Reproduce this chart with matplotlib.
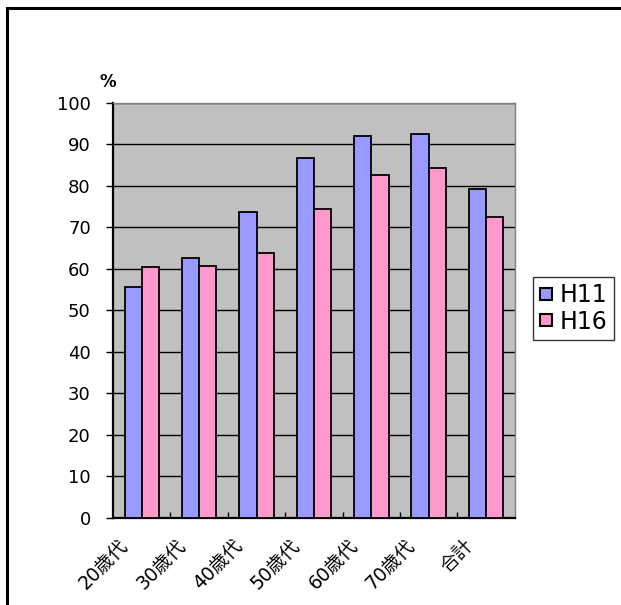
import matplotlib
matplotlib.use("Agg")
import matplotlib.pyplot as plt
import matplotlib.transforms as mtransforms
from matplotlib.lines import Line2D
from matplotlib.ticker import FixedLocator
import numpy as np

plt.rcParams["font.family"] = ["DejaVu Sans", "Noto Sans CJK JP"]

categories = ["20歳代", "30歳代", "40歳代", "50歳代", "60歳代", "70歳代", "合計"]
h11 = [55.7, 62.7, 73.7, 86.7, 92.1, 92.6, 79.3]
h16 = [60.4, 60.8, 63.9, 74.5, 82.7, 84.3, 72.6]
series_names = ["H11", "H16"]
yticks = list(range(0, 101, 10))

fig = plt.figure(figsize=(6.21, 6.05), dpi=100)
ax = fig.add_axes([0.182, 0.1438, 0.647, 0.686])
ax.set_facecolor("#c0c0c0")

x = np.arange(len(categories))
w = 0.3
ax.bar(x - w / 2, h11, w, color="#9999ff", edgecolor="black", linewidth=1.3,
       label=series_names[0], zorder=3)
ax.bar(x + w / 2, h16, w, color="#ff99cc", edgecolor="black", linewidth=1.3,
       label=series_names[1], zorder=3)

ax.set_xlim(-0.5, len(categories) - 0.5)
ax.set_ylim(0, 100)
ax.set_yticks(yticks)
ax.yaxis.grid(True, color="black", linewidth=1.0, zorder=1)
ax.set_axisbelow(True)
ax.tick_params(axis="y", direction="out", length=5, width=1, labelsize=13, pad=11)

ax.set_xticks(x)
ax.set_xticklabels(categories, rotation=45, ha="right", rotation_mode="anchor",
                   fontsize=13.5)
ax.tick_params(axis="x", which="major", length=0, pad=13)
# nudge the slanted labels left so they sit under the bars
shift = mtransforms.ScaledTranslation(-23 / 100, 0, fig.dpi_scale_trans)
for lbl in ax.get_xticklabels():
    lbl.set_transform(lbl.get_transform() + shift)
ax.xaxis.set_minor_locator(FixedLocator(np.arange(0.5, len(categories) - 0.5, 1)))
ax.tick_params(axis="x", which="minor", direction="in", length=4, width=1)

for side in ["left", "bottom"]:
    ax.spines[side].set_color("black")
    ax.spines[side].set_linewidth(1.6)
for side in ["top", "right"]:
    ax.spines[side].set_color("#808080")
    ax.spines[side].set_linewidth(1.0)

fig.text(0.161, 0.864, "%", fontsize=12, fontweight="bold", ha="left", va="center")

handles = [
    Line2D([], [], marker="s", linestyle="none", markersize=9,
           markerfacecolor="#9999ff", markeredgecolor="black", markeredgewidth=1.5),
    Line2D([], [], marker="s", linestyle="none", markersize=9,
           markerfacecolor="#ff99cc", markeredgecolor="black", markeredgewidth=1.5),
]
leg = fig.legend(handles, series_names, loc="center left",
                 bbox_to_anchor=(0.858, 0.49), frameon=True, fancybox=False,
                 edgecolor="black", fontsize=17, handlelength=0.6,
                 handletextpad=0.3, borderpad=0.25, labelspacing=0.1,
                 borderaxespad=0)
leg.get_frame().set_linewidth(1.0)

# outer chart frame, open at the right and bottom
fig.add_artist(Line2D([0.0105, 0.0105], [0.0, 0.986], color="black", linewidth=2.2,
                      transform=fig.transFigure))
fig.add_artist(Line2D([0.0105, 1.0], [0.986, 0.986], color="black", linewidth=2.2,
                      transform=fig.transFigure))

fig.savefig("out.png", dpi=100)
